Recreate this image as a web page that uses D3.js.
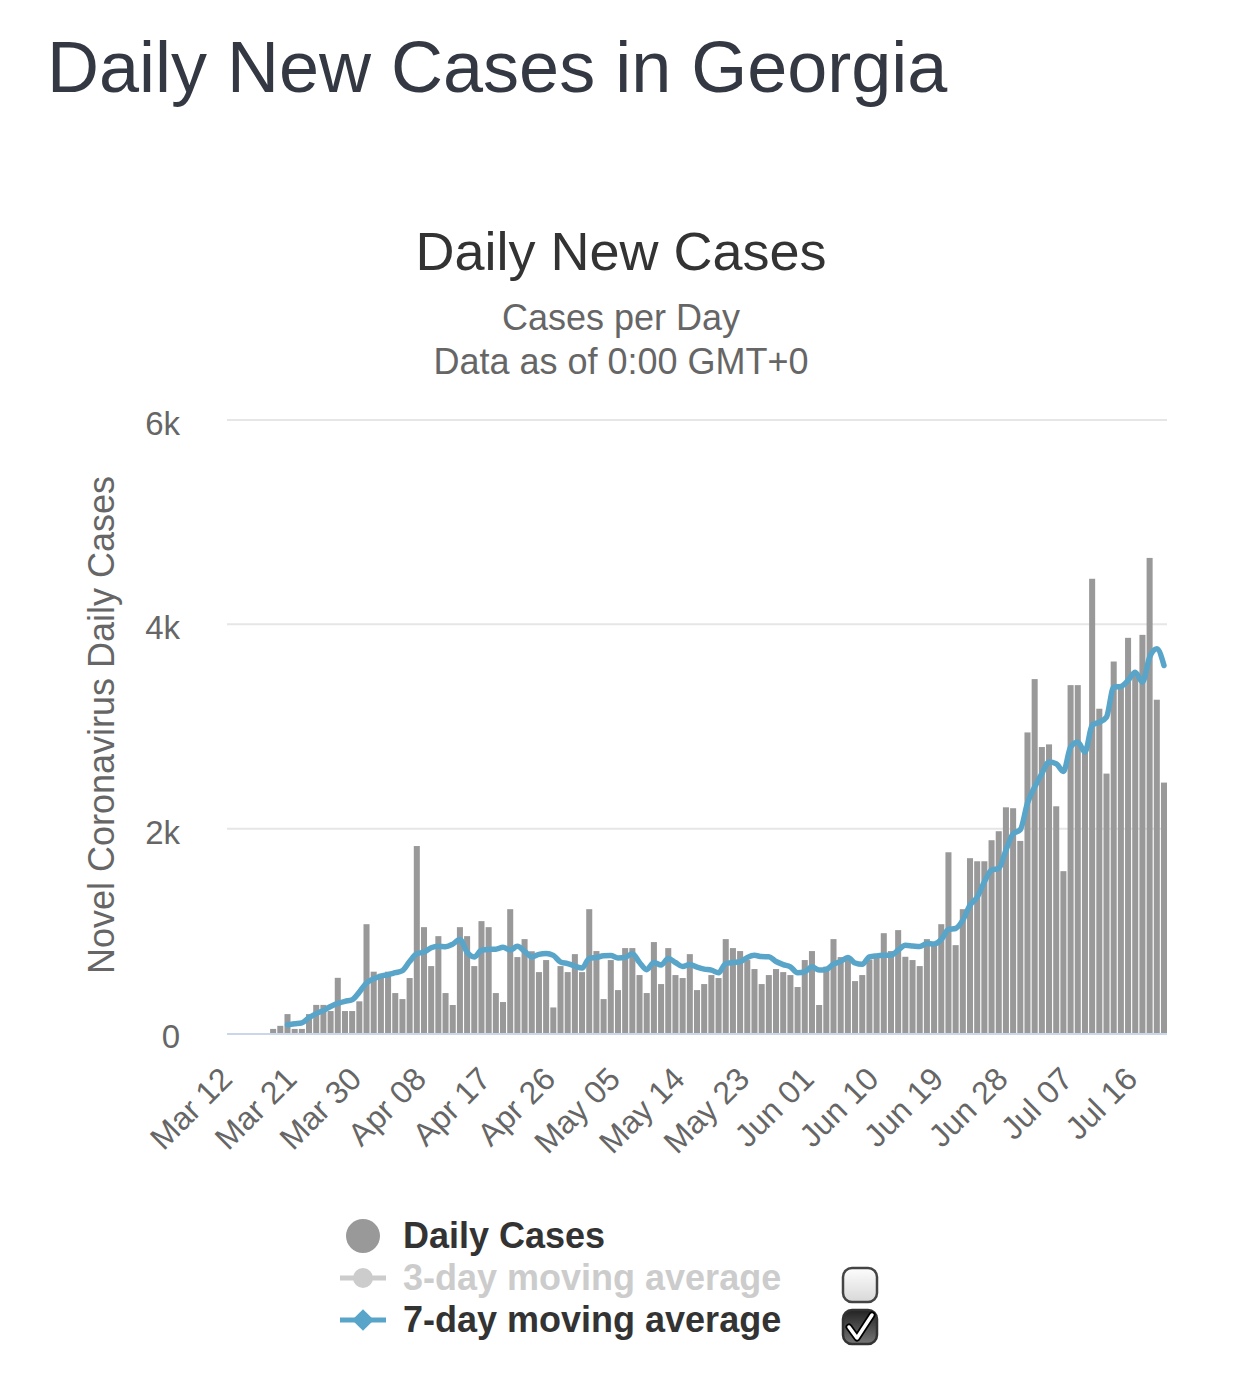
<!DOCTYPE html>
<html lang="en">
<head>
    <meta charset="UTF-8">
    <title>Daily New Cases in Georgia</title>
    <script src="https://d3js.org/d3.v7.min.js"></script>
    <style>
        body {
            margin: 0;
            background: #fff;
        }
        svg {
            display: block;
            font-family: "Liberation Sans", Arial, sans-serif;
        }
        .grid-line {
            stroke: #e6e6e6;
            stroke-width: 2;
        }
        .axis-text {
            fill: #666;
        }
    </style>
</head>
<body>
    <script>
        // values (Mar 12 .. Jul 20)
        const startDate = new Date(2020, 2, 12);
        const dailyCases = [
            0, 0, 0, 0, 0, 0, 40, 70, 185, 40,
            40, 185, 275, 275, 215, 540, 215, 215, 310, 1065,
            600, 580, 600, 391, 332, 538, 1830, 1036, 655, 948,
            391, 274, 1036, 948, 655, 1095, 1036, 391, 303, 1212,
            743, 919, 800, 596, 714, 250, 655, 596, 772, 596,
            1212, 802, 332, 714, 420, 831, 831, 567, 391, 890,
            479, 831, 567, 538, 772, 420, 479, 567, 538, 919,
            831, 802, 714, 626, 479, 567, 626, 596, 567, 450,
            714, 802, 274, 650, 919, 743, 743, 508, 567, 720,
            740, 977, 802, 1007, 746, 714, 655, 919, 860, 1065,
            1769, 860, 1212, 1711, 1681, 1681, 1887, 1975, 2209, 2200,
            1880, 2942, 3464, 2799, 2825, 2219, 1584, 3405, 3405, 2780,
            4446, 3174, 2539, 3636, 3380, 3868, 3522, 3897, 4650, 3262,
            2451
        ];
        const avg7 = [
            null, null, null, null, null, null, null, null, 80, 90,
            100, 150, 190, 220, 260, 290, 310, 325, 400, 490,
            530, 557, 570, 590, 610, 700, 775, 792, 835, 850,
            845, 870, 915, 790, 745, 810, 818, 820, 840, 812,
            848, 800, 745, 770, 778, 760, 695, 680, 655, 635,
            730, 740, 755, 758, 735, 740, 775, 690, 620, 690,
            665, 730, 690, 650, 670, 645, 625, 615, 590, 680,
            690, 697, 740, 760, 748, 746, 700, 670, 648, 590,
            598, 648, 616, 622, 674, 700, 740, 685, 672, 745,
            755, 760, 762, 811, 858, 852, 846, 877, 872, 915,
            1013, 1023, 1105, 1250, 1330, 1480, 1595, 1610, 1789, 1950,
            1990, 2250, 2408, 2539, 2652, 2636, 2560, 2799, 2848, 2750,
            3011, 3043, 3092, 3385, 3392, 3451, 3532, 3434, 3678, 3760,
            3597
        ];
        const tickLabels = ["Mar 12", "Mar 21", "Mar 30", "Apr 08", "Apr 17", "Apr 26", "May 05",
            "May 14", "May 23", "Jun 01", "Jun 10", "Jun 19", "Jun 28", "Jul 07", "Jul 16"];
        const yTicks = [0, 2000, 4000, 6000];
        const legendItems = ["Daily Cases", "3-day moving average", "7-day moving average"];

        const width = 1242, height = 1381;
        const fmt = d3.timeFormat("%b %d");
        const dates = dailyCases.map((v, i) => fmt(d3.timeDay.offset(startDate, i)));

        const svg = d3.select("body").append("svg")
            .attr("width", width)
            .attr("height", height);

        const blue = "#58a5c9";

        // titles
        svg.append("text")
            .attr("x", 47).attr("y", 92)
            .attr("font-size", 72)
            .attr("fill", "#333842")
            .text("Daily New Cases in Georgia");

        svg.append("text")
            .attr("x", 621).attr("y", 270)
            .attr("text-anchor", "middle")
            .attr("font-size", 54)
            .attr("fill", "#333")
            .text("Daily New Cases");

        svg.append("text")
            .attr("x", 621).attr("y", 330)
            .attr("text-anchor", "middle")
            .attr("font-size", 36)
            .attr("fill", "#666")
            .text("Cases per Day");

        svg.append("text")
            .attr("x", 621).attr("y", 374)
            .attr("text-anchor", "middle")
            .attr("font-size", 36)
            .attr("fill", "#666")
            .text("Data as of 0:00 GMT+0");

        // scales
        const x = d3.scaleBand()
            .domain(dates)
            .range([227, 1167])
            .paddingInner(0.16)
            .paddingOuter(0);

        const y = d3.scaleLinear()
            .domain([0, 6000])
            .range([1033, 420]);

        // grid
        svg.append("g").selectAll("line")
            .data(yTicks.filter(d => d > 0))
            .enter().append("line")
            .attr("class", "grid-line")
            .attr("x1", 227).attr("x2", 1167)
            .attr("y1", d => y(d)).attr("y2", d => y(d));

        // y labels
        svg.append("g").selectAll("text")
            .data(yTicks)
            .enter().append("text")
            .attr("class", "axis-text")
            .attr("x", 180)
            .attr("y", d => y(d) + 15)
            .attr("text-anchor", "end")
            .attr("font-size", 33)
            .text(d => d === 0 ? "0" : (d / 1000) + "k");

        svg.append("text")
            .attr("class", "axis-text")
            .attr("transform", "translate(114,725) rotate(-90)")
            .attr("text-anchor", "middle")
            .attr("font-size", 36)
            .text("Novel Coronavirus Daily Cases");

        // bars
        svg.append("g").selectAll("rect")
            .data(dailyCases)
            .enter().append("rect")
            .attr("x", (d, i) => x(dates[i]))
            .attr("width", x.bandwidth())
            .attr("y", d => y(d))
            .attr("height", d => y(0) - y(d))
            .attr("fill", "#999");

        // zero line
        svg.append("line")
            .attr("x1", 227).attr("x2", 1167)
            .attr("y1", y(0) + 1).attr("y2", y(0) + 1)
            .attr("stroke", "#ccd6eb")
            .attr("stroke-width", 2);

        // x axis labels
        const xAxis = d3.axisBottom(x)
            .tickValues(tickLabels)
            .tickSize(0)
            .tickFormat(d => d);
        const xg = svg.append("g")
            .attr("transform", "translate(0,1034)")
            .call(xAxis);
        xg.select(".domain").remove();
        xg.selectAll("text")
            .attr("class", "axis-text")
            .attr("font-size", 32)
            .attr("font-family", "'Liberation Sans', Arial, sans-serif")
            .attr("text-anchor", "end")
            .attr("y", 0).attr("dy", 0)
            .attr("transform", "translate(4,47) rotate(-45)");

        // 7-day line
        const line = d3.line()
            .defined(d => d != null)
            .x((d, i) => x(dates[i]) + x.bandwidth() / 2)
            .y(d => y(d))
            .curve(d3.curveMonotoneX);

        svg.append("path")
            .datum(avg7)
            .attr("d", line)
            .attr("fill", "none")
            .attr("stroke", blue)
            .attr("stroke-width", 5.5)
            .attr("stroke-linejoin", "round")
            .attr("stroke-linecap", "round");

        // legend
        const legend = svg.append("g");
        const rowY = [1236, 1278, 1320];

        legend.append("circle")
            .attr("cx", 363).attr("cy", rowY[0]).attr("r", 17)
            .attr("fill", "#999");

        legend.append("line")
            .attr("x1", 340).attr("x2", 386)
            .attr("y1", rowY[1]).attr("y2", rowY[1])
            .attr("stroke", "#ccc").attr("stroke-width", 5);
        legend.append("circle")
            .attr("cx", 363).attr("cy", rowY[1]).attr("r", 10)
            .attr("fill", "#ccc");

        legend.append("line")
            .attr("x1", 340).attr("x2", 386)
            .attr("y1", rowY[2]).attr("y2", rowY[2])
            .attr("stroke", blue).attr("stroke-width", 5);
        legend.append("path")
            .attr("d", d3.symbol(d3.symbolDiamond2, 300)())
            .attr("transform", `translate(363,${rowY[2]})`)
            .attr("fill", blue);

        legend.selectAll("text")
            .data(legendItems)
            .enter().append("text")
            .attr("x", 403)
            .attr("y", (d, i) => rowY[i] + 12)
            .attr("font-size", 36)
            .attr("font-weight", "bold")
            .attr("fill", (d, i) => i === 1 ? "#ccc" : "#333")
            .text(d => d);

        // checkboxes
        const defs = svg.append("defs");
        const g1 = defs.append("linearGradient").attr("id", "boxOff")
            .attr("x1", 0).attr("y1", 0).attr("x2", 0).attr("y2", 1);
        g1.append("stop").attr("offset", "0%").attr("stop-color", "#fdfdfd");
        g1.append("stop").attr("offset", "100%").attr("stop-color", "#d8d8d8");
        const g2 = defs.append("linearGradient").attr("id", "boxOn")
            .attr("x1", 0).attr("y1", 0).attr("x2", 0).attr("y2", 1);
        g2.append("stop").attr("offset", "0%").attr("stop-color", "#222");
        g2.append("stop").attr("offset", "100%").attr("stop-color", "#777");

        svg.append("rect")
            .attr("x", 843).attr("y", 1268).attr("width", 34).attr("height", 34).attr("rx", 9)
            .attr("fill", "url(#boxOff)").attr("stroke", "#444").attr("stroke-width", 2.5);
        svg.append("rect")
            .attr("x", 843).attr("y", 1310).attr("width", 34).attr("height", 34).attr("rx", 9)
            .attr("fill", "url(#boxOn)").attr("stroke", "#333").attr("stroke-width", 2.5);
        svg.append("path")
            .attr("d", "M849,1327 L857,1338 L872,1315")
            .attr("fill", "none").attr("stroke", "#000").attr("stroke-width", 7)
            .attr("stroke-linecap", "round").attr("stroke-linejoin", "round");
        svg.append("path")
            .attr("d", "M849,1327 L857,1338 L872,1315")
            .attr("fill", "none").attr("stroke", "#fff").attr("stroke-width", 3.5)
            .attr("stroke-linecap", "round").attr("stroke-linejoin", "round");
    </script>
</body>
</html>
